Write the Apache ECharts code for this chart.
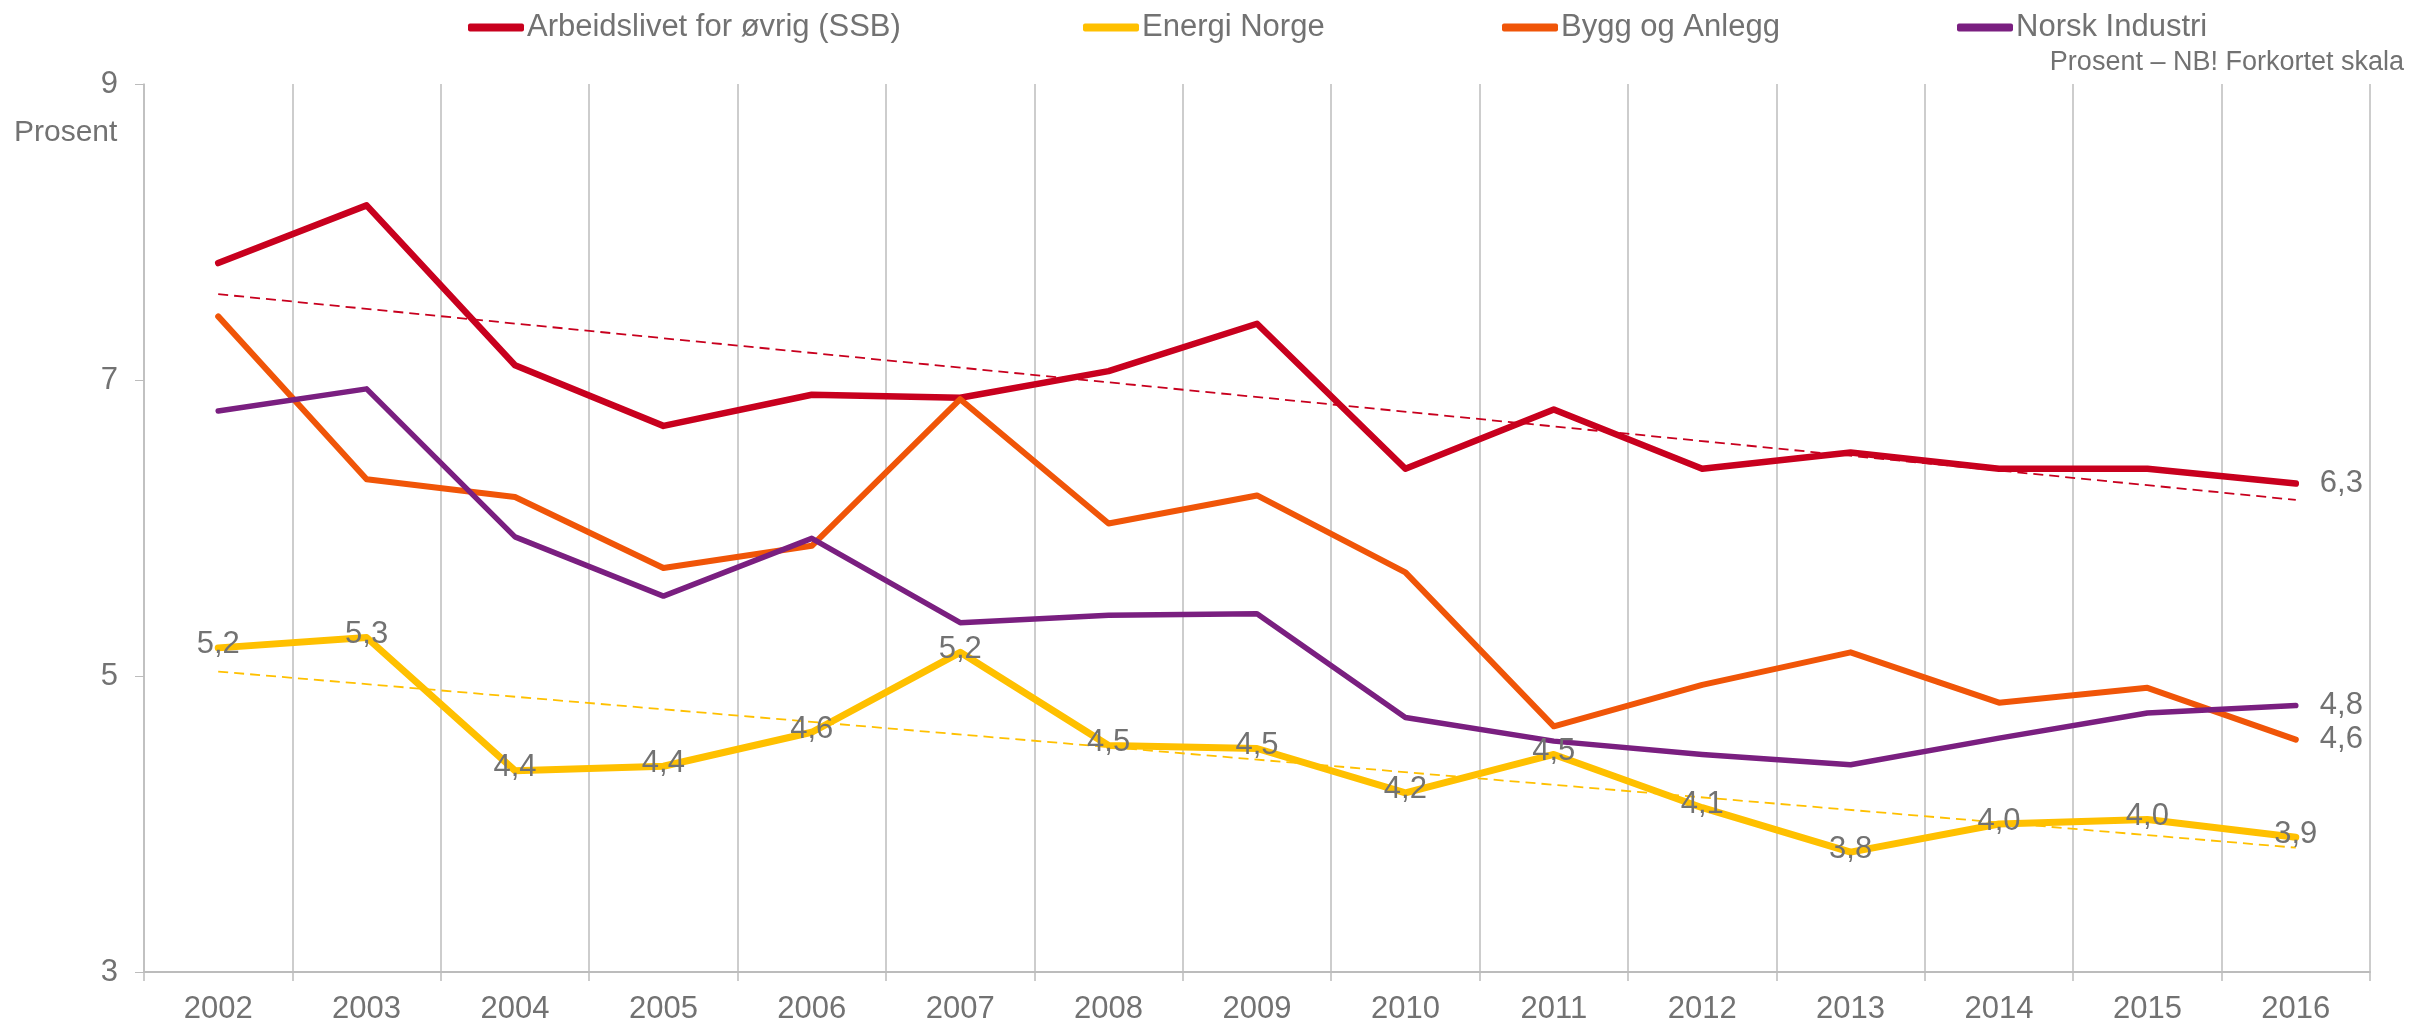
<!DOCTYPE html>
<html>
<head>
<meta charset="utf-8">
<script src="https://cdn.jsdelivr.net/npm/echarts@6/dist/echarts.min.js"></script>
<style>
  html, body { margin: 0; padding: 0; background: #fff; }
  #chart { width: 2414px; height: 1026px; }
</style>
</head>
<body>
<div id="chart"></div>
<script>
var years = ['2002','2003','2004','2005','2006','2007','2008','2009','2010','2011','2012','2013','2014','2015','2016'];

var arbeidslivet = [7.79, 8.18, 7.10, 6.69, 6.90, 6.88, 7.06, 7.38, 6.40, 6.80, 6.40, 6.51, 6.40, 6.40, 6.30];
var energiNorge  = [5.19, 5.26, 4.36, 4.39, 4.62, 5.16, 4.53, 4.51, 4.21, 4.47, 4.11, 3.81, 4.00, 4.03, 3.91];
var byggAnlegg   = [7.43, 6.33, 6.21, 5.73, 5.88, 6.87, 6.03, 6.22, 5.70, 4.66, 4.94, 5.16, 4.82, 4.92, 4.57];
var norskIndustri= [6.79, 6.94, 5.94, 5.54, 5.93, 5.36, 5.41, 5.42, 4.72, 4.56, 4.47, 4.40, 4.58, 4.75, 4.80];

// trend lines: only the two end points
var trendArbeid = [7.58, null, null, null, null, null, null, null, null, null, null, null, null, null, 6.19];
var trendEnergi = [5.03, null, null, null, null, null, null, null, null, null, null, null, null, null, 3.84];

var names = ['Arbeidslivet for øvrig (SSB)', 'Energi Norge', 'Bygg og Anlegg', 'Norsk Industri'];
var colors = ['#C8001E', '#FFC000', '#F05508', '#7A1F80'];
var widths = [6.5, 7, 6, 5.5];
var legendLeft = [468, 1083, 1502, 1957];

var textColor = '#727272';
var font = 'Liberation Sans, Arial, sans-serif';

function fmt(p) {
    return p.value.toFixed(1).replace('.', ',');
}

var chart = echarts.init(document.getElementById('chart'));

var legends = [];
for (var i = 0; i < names.length; i++) {
    legends.push({
        data: [names[i]],
        left: legendLeft[i],
        top: 12,
        padding: 0,
        icon: 'roundRect',
        itemWidth: 56,
        itemHeight: 8,
        itemGap: 0,
        textStyle: { fontSize: 31, color: textColor, fontFamily: font, padding: [0, 0, 0, -2] }
    });
}

function mainLine(idx, data, labelAll) {
    var color = colors[idx];
    var s = {
        name: names[idx],
        type: 'line',
        data: data,
        color: color,
        symbol: 'circle',
        symbolSize: 1,
        showSymbol: labelAll,
        lineStyle: { width: widths[idx], color: color, cap: 'round', join: 'round' },
        emphasis: { disabled: true },
        animation: false
    };
    if (labelAll) {
        s.label = {
            show: true,
            position: 'inside',
            formatter: fmt,
            fontSize: 31,
            color: textColor,
            fontFamily: font,
            offset: [0, -3]
        };
        s.z = 5;
    } else {
        s.endLabel = {
            show: true,
            formatter: fmt,
            distance: 24,
            fontSize: 31,
            color: textColor,
            fontFamily: font
        };
    }
    return s;
}

function trendLine(data, color) {
    return {
        type: 'line',
        data: data,
        connectNulls: true,
        symbol: 'none',
        silent: true,
        lineStyle: { width: 1.8, type: [10, 6], color: color },
        animation: false,
        z: 3
    };
}

chart.setOption({
    backgroundColor: '#fff',
    animation: false,
    title: [
        {
            text: 'Prosent – NB! Forkortet skala',
            right: 10,
            top: 49,
            padding: 0,
            textStyle: { fontSize: 27, fontWeight: 'normal', color: textColor, fontFamily: font }
        },
        {
            text: 'Prosent',
            left: 14,
            top: 118,
            padding: 0,
            textStyle: { fontSize: 30, fontWeight: 'normal', color: textColor, fontFamily: font }
        }
    ],
    legend: legends,
    grid: { left: 144, right: 44, top: 84, bottom: 54, containLabel: false },
    xAxis: {
        type: 'category',
        data: years,
        boundaryGap: true,
        axisLine: { lineStyle: { color: '#bcbcbc', width: 2 } },
        axisTick: { show: true, length: 9, lineStyle: { color: '#bcbcbc', width: 1.5 } },
        splitLine: { show: true, lineStyle: { color: '#bcbcbc', width: 1.5 } },
        axisLabel: { fontSize: 31, color: textColor, fontFamily: font, margin: 22 }
    },
    yAxis: {
        type: 'value',
        min: 3,
        max: 9,
        interval: 2,
        axisLine: { show: true, lineStyle: { color: '#bcbcbc', width: 1.5 } },
        axisTick: { show: true, length: 9, lineStyle: { color: '#bcbcbc' } },
        splitLine: { show: false },
        axisLabel: { fontSize: 31, color: textColor, fontFamily: font, margin: 26 }
    },
    series: [
        mainLine(0, arbeidslivet, false),
        mainLine(1, energiNorge, true),
        mainLine(2, byggAnlegg, false),
        mainLine(3, norskIndustri, false),
        trendLine(trendArbeid, colors[0]),
        trendLine(trendEnergi, colors[1])
    ]
});
</script>
</body>
</html>
